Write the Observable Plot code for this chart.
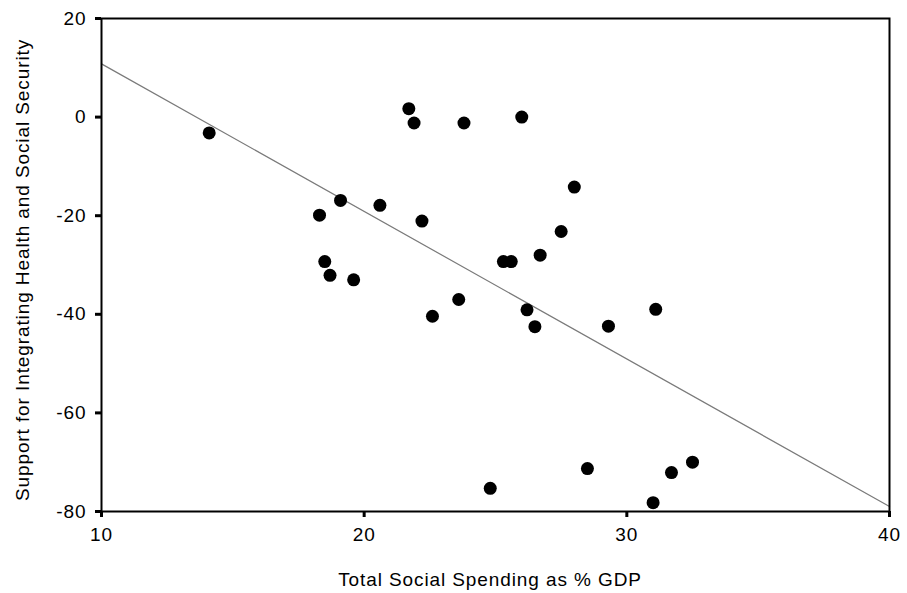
<!DOCTYPE html>
<html>
<head>
<meta charset="utf-8">
<script src="https://cdn.jsdelivr.net/npm/d3@7"></script>
<script src="https://cdn.jsdelivr.net/npm/@observablehq/plot@0.6"></script>
<style>
  html, body { margin: 0; padding: 0; background: #fff; }
  svg { display: block; }
</style>
</head>
<body>
<div id="chart"></div>
<script>
// Total social spending (% GDP) and support for integrating health and social security
const spending = [14.1, 21.7, 21.9, 23.8, 26.0, 28.0, 19.1, 20.6, 18.3, 22.2, 27.5, 26.7, 25.3, 25.6,
                  18.5, 18.7, 19.6, 23.6, 22.6, 26.2, 26.5, 29.3, 31.1, 24.8, 28.5, 31.0, 31.7, 32.5];
const support  = [-3.2, 1.7, -1.2, -1.2, 0.0, -14.2, -16.9, -17.9, -19.9, -21.1, -23.2, -28.0, -29.3, -29.3,
                  -29.3, -32.1, -33.0, -37.0, -40.4, -39.1, -42.5, -42.4, -39.0, -75.3, -71.3, -78.2, -72.1, -70.0];
// Fitted regression line endpoints
const fitX = [10, 40];
const fitY = [10.8, -79.0];
const xTicks = [10, 20, 30, 40];
const yTicks = [-80, -60, -40, -20, 0, 20];
const xTitle = "Total Social Spending as % GDP";
const yTitle = "Support for Integrating Health and Social Security";

const points = spending.map((x, i) => ({x, y: support[i]}));
const fit = fitX.map((x, i) => ({x, y: fitY[i]}));

const W = 907, H = 593;
const mL = 101, mR = 18, mT = 18, mB = 82;
const font = "Liberation Sans, Arial, sans-serif";
const fmt = d => (d < 0 ? "-" + Math.abs(d) : String(d));

const chart = Plot.plot({
  width: W,
  height: H,
  marginLeft: mL,
  marginRight: mR,
  marginTop: mT,
  marginBottom: mB,
  style: {fontFamily: font, fontSize: "19px", background: "#fff", color: "#000", letterSpacing: "0.9px"},
  x: {domain: [10, 40]},
  y: {domain: [-80, 20]},
  marks: [
    Plot.line(fit, {x: "x", y: "y", stroke: "#7a7a7a", strokeWidth: 1.2}),
    Plot.dot(points, {x: "x", y: "y", r: 6.5, fill: "#000", stroke: "none"}),
    Plot.frame({stroke: "#000", strokeWidth: 2}),
    Plot.axisX({ticks: xTicks, tickFormat: fmt, tickSize: 6, tickPadding: 10, strokeWidth: 3, label: null, fontSize: 19}),
    Plot.axisY({ticks: yTicks, tickFormat: fmt, tickSize: 6, tickPadding: 9, strokeWidth: 3, label: null, fontSize: 19})
  ]
});

const svg = d3.select(chart);
svg.append("text")
  .attr("x", 490).attr("y", 586)
  .attr("text-anchor", "middle")
  .attr("font-family", font).attr("font-size", 19)
  .attr("letter-spacing", "0.9px")
  .text(xTitle);
svg.append("text")
  .attr("transform", "translate(29,270) rotate(-90)")
  .attr("text-anchor", "middle")
  .attr("font-family", font).attr("font-size", 19)
  .attr("letter-spacing", "0.9px")
  .text(yTitle);

document.getElementById("chart").appendChild(chart);
</script>
</body>
</html>
